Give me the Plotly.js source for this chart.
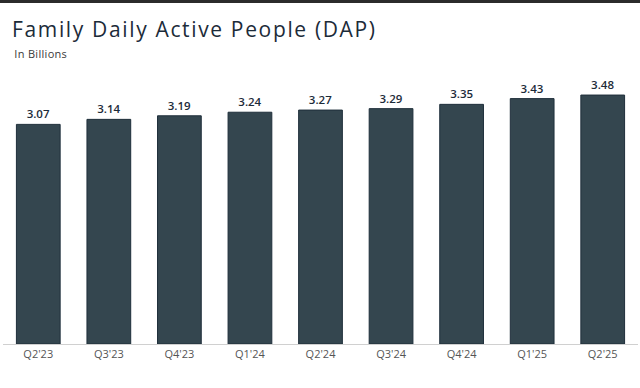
<!DOCTYPE html>
<html>
<head>
<meta charset="utf-8">
<script src="https://cdn.plot.ly/plotly-3.0.1.min.js"></script>
<style>
html,body{margin:0;padding:0;background:#fff;}
#wrap{position:relative;width:640px;height:388px;overflow:hidden;}
#topbar{position:absolute;left:0;top:0;width:640px;height:3px;background:#2b2b2b;z-index:10;}
#chart{width:640px;height:388px;}
#chart .gtitle{letter-spacing:1.65px;}
#chart .annotation-text{letter-spacing:0.3px;}
</style>
</head>
<body>
<div id="wrap"><div id="topbar"></div><div id="chart"></div></div>
<script>
var quarters = ["Q2'23","Q3'23","Q4'23","Q1'24","Q2'24","Q3'24","Q4'24","Q1'25","Q2'25"];
var dap = [3.07, 3.14, 3.19, 3.24, 3.27, 3.29, 3.35, 3.43, 3.48];
var valueLabels = ["3.07","3.14","3.19","3.24","3.27","3.29","3.35","3.43","3.48"];

var trace = {
  type: 'bar',
  x: quarters,
  y: dap,
  text: valueLabels,
  textposition: 'outside',
  cliponaxis: false,
  textfont: {family: 'Open Sans', size: 11.5, color: '#1c2b39', weight: 600},
  marker: {color: '#34464f', line: {color: '#1f2f3b', width: 1}},
  hoverinfo: 'x+y'
};

var layout = {
  width: 640,
  height: 388,
  margin: {l: 3, r: 2, t: 65, b: 44},
  paper_bgcolor: '#ffffff',
  plot_bgcolor: '#ffffff',
  bargap: 0.38,
  showlegend: false,
  title: {
    text: 'Family Daily Active People (DAP)',
    font: {family: 'Open Sans', size: 21, color: '#1c2b39'},
    xref: 'container', yref: 'container',
    x: 12/640, xanchor: 'left',
    y: 1 - 30/388, yanchor: 'middle'
  },
  annotations: [{
    text: 'In Billions',
    xref: 'paper', yref: 'paper',
    x: (14-3)/635, xanchor: 'left',
    y: 1 + (65-54)/279, yanchor: 'middle',
    showarrow: false,
    font: {family: 'Open Sans', size: 11, color: '#3a3a3a'}
  }],
  xaxis: {
    type: 'category',
    showline: true,
    linecolor: '#d0d0d0',
    linewidth: 1,
    ticks: '',
    showgrid: false,
    zeroline: false,
    tickfont: {family: 'Open Sans', size: 11, color: '#555555'}
  },
  yaxis: {
    range: [0, 3.9],
    visible: false,
    showgrid: false,
    zeroline: false
  }
};

Plotly.newPlot('chart', [trace], layout, {displayModeBar: false, staticPlot: true});
</script>
</body>
</html>
